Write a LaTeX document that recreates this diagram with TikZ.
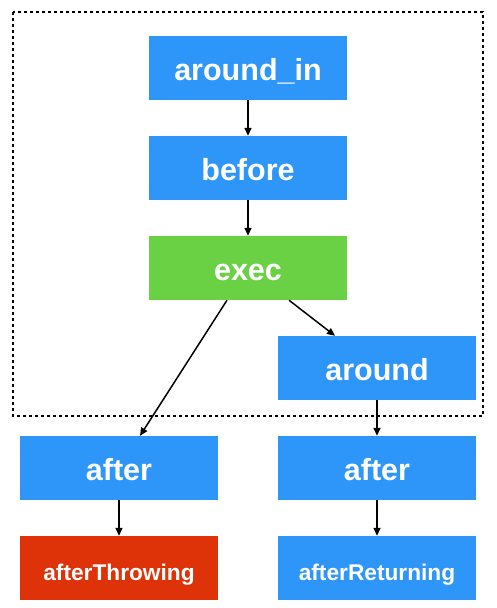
\documentclass[tikz,border=0pt]{standalone}
\usepackage{fontspec}
\setmainfont{Liberation Sans}
\usetikzlibrary{arrows.meta}
\definecolor{cblue}{HTML}{2F96F9}
\definecolor{cgreen}{HTML}{6AD145}
\definecolor{cred}{HTML}{DE3308}
\tikzset{
  box/.style={rectangle, minimum width=198pt, minimum height=64pt, inner sep=0pt, text height=24pt, text depth=0pt, text=white, font=\fontsize{30.5}{34}\selectfont\bfseries},
  smallbox/.style={box, font=\fontsize{22.7}{26}\selectfont\bfseries},
  conn/.style={line width=1.5pt, -{Triangle[length=8pt,width=7pt]}},
}
\begin{document}
\begin{tikzpicture}[x=1pt,y=-1pt]
\useasboundingbox (0,0) rectangle (496,608);
\draw[line width=1.6pt, dash pattern=on 3pt off 3pt] (13,12) rectangle (483,416);
\node[box, fill=cblue] (ain) at (248,68) {around\_in};
\node[box, fill=cblue] (bef) at (248,168) {before};
\node[box, fill=cgreen] (exec) at (248,268) {exec};
\node[box, fill=cblue] (aro) at (377,368) {around};
\node[box, fill=cblue] (aft1) at (119,468) {after};
\node[box, fill=cblue] (aft2) at (377,468) {after};
\node[smallbox, fill=cred] (thr) at (119,568) {afterThrowing};
\node[smallbox, fill=cblue] (ret) at (377,568) {afterReturning};
\draw[conn] (ain) -- (bef);
\draw[conn] (bef) -- (exec);
\draw[conn] ([xshift=-21pt]exec.south) -- ([xshift=21pt]aft1.north);
\draw[conn] ([xshift=41pt]exec.south) -- ([xshift=-42pt]aro.north);
\draw[conn] (aro) -- (aft2);
\draw[conn] (aft1) -- (thr);
\draw[conn] (aft2) -- (ret);
\end{tikzpicture}
\end{document}
